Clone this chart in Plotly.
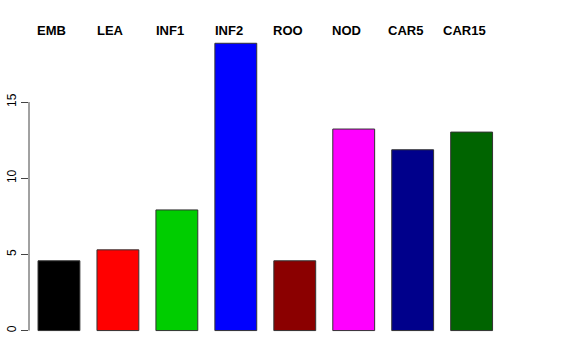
import plotly.graph_objects as go

categories = ["EMB", "LEA", "INF1", "INF2", "ROO", "NOD", "CAR5", "CAR15"]
values = [4.58, 5.3, 7.92, 18.86, 4.58, 13.23, 11.87, 13.03]
colors = ["#000000", "#FF0000", "#00CD00", "#0000FF", "#8B0000", "#FF00FF", "#00008B", "#006400"]
tick_vals = [0, 5, 10, 15]

fig = go.Figure()
fig.add_trace(go.Bar(
    x=categories, y=values,
    marker=dict(color=colors, line=dict(color="#333333", width=1)),
    width=0.71,
))

for c in categories:
    fig.add_annotation(x=c, y=1.0, xref="x", yref="paper", text="<b>%s</b>" % c,
                       showarrow=False, xshift=-7, yshift=2, yanchor="middle",
                       font=dict(family="Liberation Sans, Arial", size=13, color="black"))

fig.add_shape(type="line", xref="paper", yref="y", x0=0, x1=0, y0=0, y1=15,
              line=dict(color="#444444", width=1))

fig.update_layout(
    width=576, height=360,
    margin=dict(l=29, r=69, t=32, b=18),
    plot_bgcolor="white", paper_bgcolor="white",
    showlegend=False,
    xaxis=dict(range=[-0.508, 7.6], showticklabels=False, ticks="", showgrid=False,
               zeroline=False, showline=False, automargin=False),
    yaxis=dict(range=[-0.75, 19.6], tickvals=tick_vals, ticks="outside", ticklen=7,
               tickcolor="#444444", tickangle=-90, showgrid=False, zeroline=False,
               showline=False, automargin=False,
               tickfont=dict(family="Liberation Sans, Arial", size=12, color="black")),
)

fig.write_html(
    "out.html",
    config={"displayModeBar": False},
    post_script="document.body.style.margin='0';document.body.style.overflow='hidden';",
)
